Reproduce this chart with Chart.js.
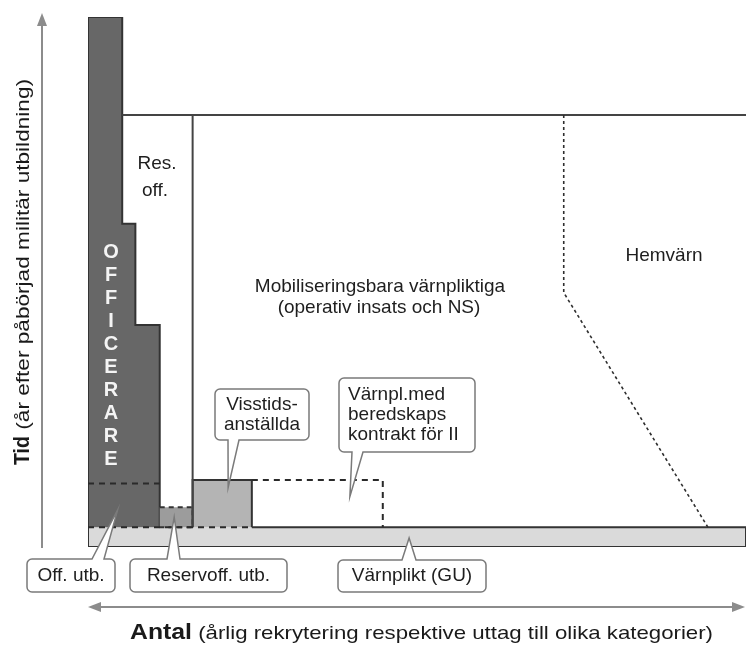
<!DOCTYPE html>
<html>
<head>
<meta charset="utf-8">
<script src="https://cdn.jsdelivr.net/npm/chart.js@4.4.0/dist/chart.umd.min.js"></script>
<style>
  html, body { margin: 0; padding: 0; background: #fff; }
  #wrap { width: 746px; height: 646px; position: relative; }
</style>
</head>
<body>
<div id="wrap"><canvas id="flowChart"></canvas></div>
<script>
// x = antal (relativa enheter 0-100), y = tid (år, 0-40)
const officerX = [0, 0, 5.2, 5.2, 7.2, 7.2, 10.9, 10.9];
const officerY = [1.5, 40, 40, 24.4, 24.4, 16.75, 16.75, 1.5];
const offUtbX = [0, 10.9];
const offUtbY = [4.8, 4.8];
const resOffX = [10.9, 15.9, 15.9, 10.9];
const resOffY = [3.0, 3.0, 1.5, 1.5];
const visstidX = [15.9, 15.9, 24.9, 24.9];
const visstidY = [1.5, 5.06, 5.06, 1.5];
const beredskapX = [24.9, 44.8, 44.8];
const beredskapY = [5.06, 5.06, 1.5];
const guX = [24.9, 100, 100, 0, 0];
const guY = [1.5, 1.5, 0, 0, 1.5];
const guTopX = [0, 24.9];
const guTopY = [1.5, 1.5];
const resBoundX = [15.9, 15.9];
const resBoundY = [1.5, 32.6];
const mobTopX = [5.2, 100];
const mobTopY = [32.6, 32.6];
const hemvarnX = [72.3, 72.3, 94.2];
const hemvarnY = [32.6, 19.2, 1.5];

const officerLetters = "OFFICERARE";
const areaNames = [["Res.", "off."], ["Mobiliseringsbara värnpliktiga", "(operativ insats och NS)"], ["Hemvärn"]];
const calloutText = [["Off. utb."], ["Reservoff. utb."], ["Värnplikt (GU)"], ["Visstids-", "anställda"], ["Värnpl.med", "beredskaps", "kontrakt för II"]];
const calloutTipX = [4.5, 13.1, 48.8, 21.3, 39.8];
const calloutTipY = [2.8, 2.26, 0.68, 4.5, 3.8];
const yTitle = ["Tid", " (år efter påbörjad militär utbildning)"];
const xTitle = ["Antal", " (årlig rekrytering respektive uttag till olika kategorier)"];

const pts = (xs, ys) => xs.map((x, i) => ({ x: x, y: ys[i] }));

const FONT = "'Liberation Sans', Arial, sans-serif";
const DARK = "#333";

function line(xs, ys, color, width, dash, order) {
  return { data: pts(xs, ys), borderColor: color, borderWidth: width, borderDash: dash, fill: false, order: order };
}
function shape(xs, ys, bg, width, dash, order) {
  return { data: pts(xs, ys), backgroundColor: bg, borderColor: DARK, borderWidth: width, borderDash: dash, fill: "shape", order: order };
}

// boxes for the callouts (pixels), wedge base and side it sits on
const boxes = [
  { x1: 27, y1: 559, x2: 115, y2: 592, b1: 92, b2: 104, side: "top" },
  { x1: 130, y1: 559, x2: 287, y2: 592, b1: 167, b2: 180, side: "top" },
  { x1: 338, y1: 560, x2: 486, y2: 592, b1: 402, b2: 416, side: "top" },
  { x1: 215, y1: 389, x2: 309, y2: 440, b1: 228, b2: 239, side: "bottom" },
  { x1: 339, y1: 378, x2: 475, y2: 452, b1: 352, b2: 363, side: "bottom", left: true }
];

function calloutPath(c, b, tx, ty) {
  const r = 5;
  c.beginPath();
  c.moveTo(b.x1 + r, b.y1);
  if (b.side === "top") { c.lineTo(b.b1, b.y1); c.lineTo(tx, ty); c.lineTo(b.b2, b.y1); }
  c.lineTo(b.x2 - r, b.y1);
  c.arcTo(b.x2, b.y1, b.x2, b.y1 + r, r);
  c.lineTo(b.x2, b.y2 - r);
  c.arcTo(b.x2, b.y2, b.x2 - r, b.y2, r);
  if (b.side === "bottom") { c.lineTo(b.b2, b.y2); c.lineTo(tx, ty); c.lineTo(b.b1, b.y2); }
  c.lineTo(b.x1 + r, b.y2);
  c.arcTo(b.x1, b.y2, b.x1, b.y2 - r, r);
  c.lineTo(b.x1, b.y1 + r);
  c.arcTo(b.x1, b.y1, b.x1 + r, b.y1, r);
  c.closePath();
}

// draw text stretched horizontally to a given width
function fitText(c, text, x, y, font, width) {
  c.font = font;
  const w = c.measureText(text).width;
  c.save();
  c.translate(x, y);
  c.scale(width / w, 1);
  c.textAlign = "left";
  c.fillText(text, 0, 0);
  c.restore();
}

function arrowHead(c, tx, ty, dx, dy) {
  const len = 13, half = 5;
  const px = -dy, py = dx;
  c.beginPath();
  c.moveTo(tx, ty);
  c.lineTo(tx - dx * len + px * half, ty - dy * len + py * half);
  c.lineTo(tx - dx * len - px * half, ty - dy * len - py * half);
  c.closePath();
  c.fill();
}

const diagramText = {
  id: "diagramText",
  afterDatasetsDraw(chart) {
    const c = chart.ctx;
    const xs = chart.scales.x, ys = chart.scales.y;
    c.save();

    // axis arrows
    c.strokeStyle = "#8c8c8c";
    c.fillStyle = "#8c8c8c";
    c.lineWidth = 2;
    c.beginPath(); c.moveTo(42, 548); c.lineTo(42, 24); c.stroke();
    arrowHead(c, 42, 13, 0, -1);
    c.beginPath(); c.moveTo(98, 607); c.lineTo(735, 607); c.stroke();
    arrowHead(c, 88, 607, -1, 0);
    arrowHead(c, 745, 607, 1, 0);

    // callouts
    c.textBaseline = "middle";
    boxes.forEach((b, i) => {
      const tx = xs.getPixelForValue(calloutTipX[i]);
      const ty = ys.getPixelForValue(calloutTipY[i]);
      calloutPath(c, b, tx, ty);
      c.fillStyle = "#fff";
      c.fill();
      c.strokeStyle = "#7a7a7a";
      c.lineWidth = 1.5;
      c.stroke();
      c.fillStyle = "#1e1e1e";
      c.font = "19px " + FONT;
      const lines = calloutText[i];
      const lh = 20;
      const cy = (b.y1 + b.y2) / 2 - (lines.length - 1) * lh / 2;
      lines.forEach((t, k) => {
        if (b.left) { c.textAlign = "left"; c.fillText(t, b.x1 + 9, cy + k * lh); }
        else { c.textAlign = "center"; c.fillText(t, (b.x1 + b.x2) / 2, cy + k * lh); }
      });
    });

    // area names
    c.fillStyle = "#1e1e1e";
    c.textAlign = "center";
    c.font = "19px " + FONT;
    c.fillText(areaNames[0][0], 157, 164);
    c.fillText(areaNames[0][1], 155, 191);
    c.fillText(areaNames[1][0], 380, 287);
    c.fillText(areaNames[1][1], 379, 308);
    c.fillText(areaNames[2][0], 664, 256);

    // OFFICERARE, one letter per row
    c.fillStyle = "#f4f4f4";
    c.font = "bold 20px " + FONT;
    officerLetters.split("").forEach((ch, k) => c.fillText(ch, 111, 252 + k * 23.1));

    // axis titles
    c.fillStyle = "#1a1a1a";
    c.textBaseline = "alphabetic";
    fitText(c, xTitle[0], 130, 639, "bold 22px " + FONT, 62);
    fitText(c, xTitle[1], 192, 639, "19px " + FONT, 521);
    c.translate(29, 272);
    c.rotate(-Math.PI / 2);
    fitText(c, yTitle[0], -193, 0, "bold 22px " + FONT, 29);
    fitText(c, yTitle[1], -164, 0, "19px " + FONT, 357);
    c.restore();
  }
};

const ctx = document.getElementById("flowChart").getContext("2d");
const flowChart = new Chart(ctx, {
  type: "line",
  data: {
    datasets: [
      line(hemvarnX, hemvarnY, "#2e2e2e", 1.6, [3, 3], 1),
      line(offUtbX, offUtbY, "#2a2a2a", 2, [6, 5], 1),
      line(guTopX, guTopY, "#2a2a2a", 2, [6, 5], 1),
      line(beredskapX, beredskapY, "#2a2a2a", 2, [6, 5], 1),
      line(resBoundX, resBoundY, "#444", 2, [], 2),
      line(mobTopX, mobTopY, "#444", 2, [], 2),
      shape(visstidX, visstidY, "#b4b4b4", 2, [], 3),
      shape(resOffX, resOffY, "#9c9c9c", 2, [5, 4], 3),
      shape(officerX, officerY, "#676767", 2, [], 4),
      shape(guX, guY, "#dadada", 2, [], 5)
    ]
  },
  options: {
    responsive: true,
    maintainAspectRatio: false,
    animation: false,
    events: [],
    layout: { padding: { left: 88, right: 0, top: 17, bottom: 99 } },
    elements: { point: { radius: 0 }, line: { tension: 0 } },
    plugins: { legend: { display: false }, tooltip: { enabled: false } },
    scales: {
      x: { type: "linear", min: 0, max: 100, display: false },
      y: { type: "linear", min: 0, max: 40, display: false }
    }
  },
  plugins: [diagramText]
});
</script>
</body>
</html>
